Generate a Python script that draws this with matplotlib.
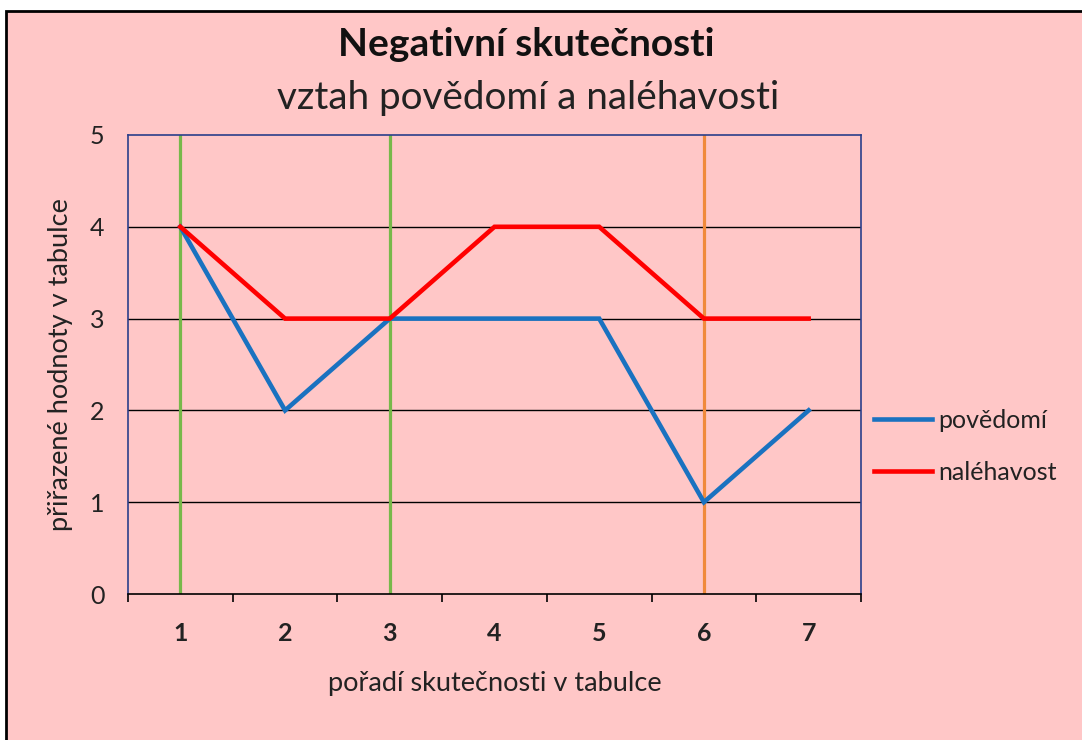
"""
Negativní skutečnosti - vztah povědomí a naléhavosti.
"""

import matplotlib

matplotlib.use("Agg")
import matplotlib.pyplot as plt
from matplotlib.patches import Rectangle

# data
poradi = [1, 2, 3, 4, 5, 6, 7]
povedomi = [4, 2, 3, 3, 3, 1, 2]
nalehavost = [4, 3, 3, 4, 4, 3, 3]
zelene_znacky = [1, 3]
oranzova_znacka = [6]
y_ticks = [0, 1, 2, 3, 4, 5]

PINK = "#ffc7c7"
FRAME_BLUE = "#2b3f8a"

plt.rcParams["font.family"] = ["Lato", "DejaVu Sans"]

fig = plt.figure(figsize=(10.82, 7.40), dpi=100)
fig.patch.set_facecolor("white")

# pink chart area with black frame
fig.patches.append(
    Rectangle(
        (6 / 1082, -0.01), 1.01, 1 - 11 / 740 + 0.01,
        transform=fig.transFigure, facecolor=PINK, edgecolor="black",
        linewidth=2.0, zorder=-10,
    )
)

ax = fig.add_axes([128 / 1082, 146 / 740, 733 / 1082, 459 / 740])
ax.set_facecolor(PINK)

ax.set_xlim(0.5, 7.5)
ax.set_ylim(0, 5)

for y in y_ticks[1:-1]:
    ax.axhline(y, color="black", linewidth=1.0, zorder=1)

for x in zelene_znacky:
    ax.axvline(x, color="#77b84a", linewidth=2.3, zorder=2)
for x in oranzova_znacka:
    ax.axvline(x, color="#f08a3c", linewidth=2.3, zorder=2)

ax.plot(poradi, povedomi, color="#1a72c0", linewidth=3.3, label="povědomí",
        zorder=3, solid_joinstyle="miter")
ax.plot(poradi, nalehavost, color="#ff0000", linewidth=3.3, label="naléhavost",
        zorder=3, solid_joinstyle="miter")

for side in ("left", "top", "right"):
    ax.spines[side].set_color(FRAME_BLUE)
    ax.spines[side].set_linewidth(1.2)
ax.spines["bottom"].set_color("black")
ax.spines["bottom"].set_linewidth(1.2)

ax.set_yticks(y_ticks)
ax.tick_params(axis="y", length=0, pad=17, labelsize=18, labelcolor="#222222")

ax.set_xticks([p - 0.5 for p in poradi] + [7.5])
ax.set_xticklabels([])
ax.set_xticks(poradi, minor=True)
ax.set_xticklabels([str(p) for p in poradi], minor=True, fontweight="bold")
ax.tick_params(axis="x", which="major", length=6, width=1.2, direction="out")
ax.tick_params(axis="x", which="minor", length=0, pad=20, labelsize=18,
               labelcolor="#222222")

ax.set_xlabel("pořadí skutečnosti v tabulce", fontsize=19.5, color="#222222",
              labelpad=19)
ax.set_ylabel("přiřazené hodnoty v tabulce", fontsize=19.5, color="#222222",
              labelpad=12)

fig.text(526 / 1082, 1 - 45 / 740, "Negativní skutečnosti", ha="center",
         va="center", fontsize=28, fontweight="bold", color="#111111")
fig.text(528 / 1082, 1 - 98 / 740, "vztah povědomí a naléhavosti",
         ha="center", va="center", fontsize=27.8, color="#222222")

leg = ax.legend(loc="center left", bbox_to_anchor=(1.0, 0.322), frameon=False,
                fontsize=18, handlelength=2.35, handletextpad=0.25,
                labelspacing=1.15, borderaxespad=0.1)
for t in leg.get_texts():
    t.set_color("#222222")

fig.savefig("out.png", dpi=100, facecolor=fig.get_facecolor())
